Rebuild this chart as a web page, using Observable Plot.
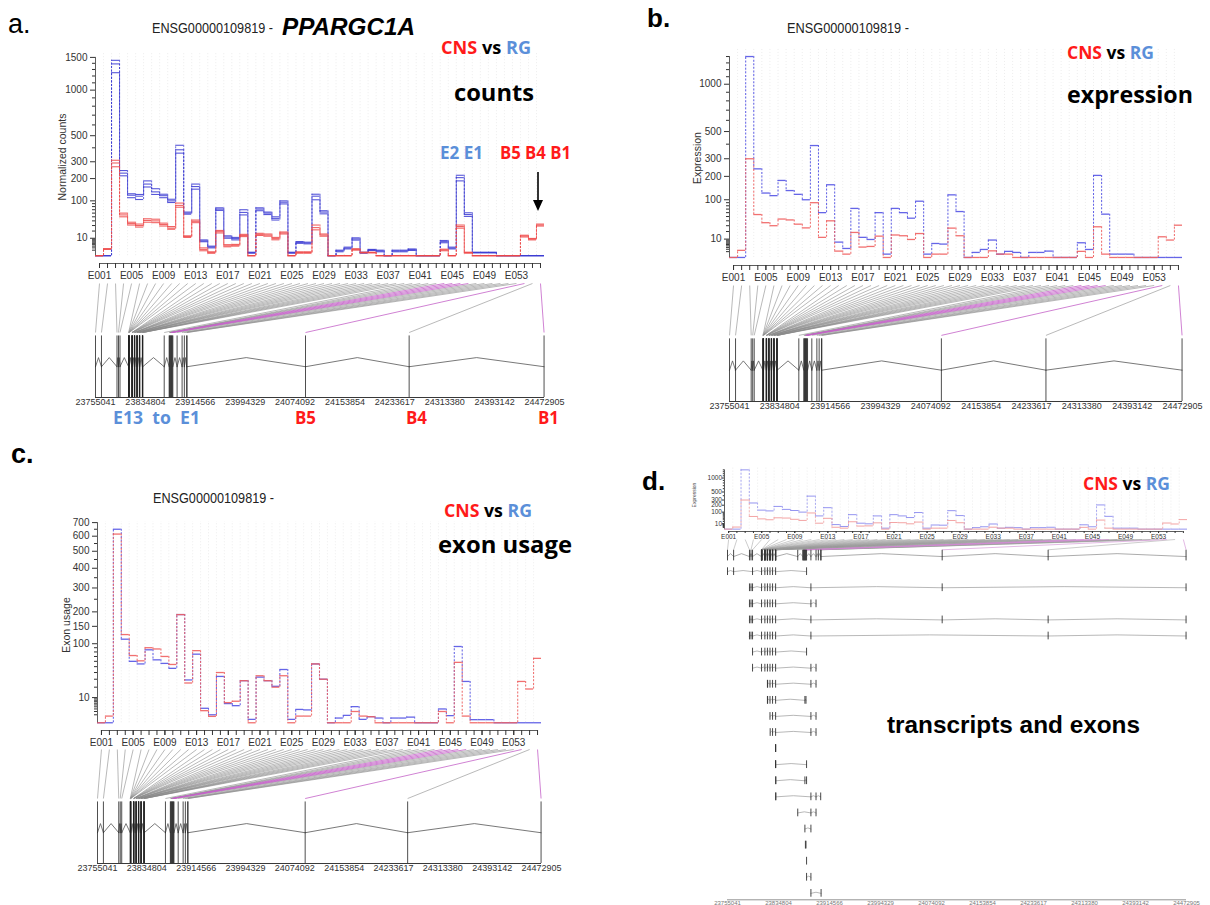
<!DOCTYPE html>
<html><head><meta charset="utf-8">
<script src="https://cdn.jsdelivr.net/npm/d3@7"></script>
<script src="https://cdn.jsdelivr.net/npm/@observablehq/plot@0.6"></script>
<style>
html,body{margin:0;padding:0;background:#fff}
#fig{position:relative;width:1210px;height:905px;overflow:hidden;background:#fff}
#fig > svg{position:absolute}
</style></head><body><div id="fig"></div>
<script>
// ---------------- DATA ----------------
const GENE_START = 23755041, GENE_END = 24472905;
const exonNames = ["E001","E002","E003","E004","E005","E006","E007","E008","E009","E010","E011","E012","E013","E014","E015","E016","E017","E018","E019","E020","E021","E022","E023","E024","E025","E026","E027","E028","E029","E030","E031","E032","E033","E034","E035","E036","E037","E038","E039","E040","E041","E042","E043","E044","E045","E046","E047","E048","E049","E050","E051","E052","E053","E054","E055","E056"];
const exonLabelTicks = ["E001","E005","E009","E013","E017","E021","E025","E029","E033","E037","E041","E045","E049","E053"];
const exonStarts = [23755041,23764600,23789400,23791800,23794200,
  23808000,23808150,23808300,23808450,23808600,23808750,23808900,23809050,
  23813200,23813350,23813500,23813650,23813800,23813950,
  23817200,23817350,23817500,23817650,23817800,
  23821200,23821350,23821500,23821650,23821800,
  23825200,23825350,23825500,23825650,23825800,
  23830000,23830150,23830300,23830450,23830600,
  23864900,23872800,23873600,23874400,23875300,23876100,23876900,23877800,23878700,
  23885500,23893500,23897100,23900800,23901400,24090800,24256500,24472200];
const genomicTicks = [23755041,23834804,23914566,23994329,24074092,24153854,24233617,24313380,24393142,24472905];
const sigExons = ["E044","E045","E046","E047","E054","E056"];

// panel a: normalized counts, three replicates per tissue
const countsRG1 = [0,0,1450,245,128,125,188,150,126,106,420,63,172,8.2,3.0,76,13,11,70,0.4,76,63,50,100,0.4,6.6,6.0,126,67,0,1.0,2.4,10.5,0.4,1.3,1.0,0,1.0,1.0,1.5,0,0,0,7.6,2.4,218,61,0.4,0.4,0.4,0,0,0,0,0,0];
const countsRG2 = [0,0,1390,230,122,118,172,136,120,100,385,60,160,7.2,2.5,72,11.5,9.6,62,0.3,72,60,46,95,0.3,5.8,5.3,118,63,0,0.75,1.9,9.2,0.3,1.1,0.75,0,0.75,0.75,1.2,0,0,0,6.5,1.9,205,56,0.33,0.33,0.33,0,0,0,0,0,0];
const countsRG3 = [0,0,1250,215,112,105,158,125,112,94,360,57,148,6.4,2.0,68,10,8.2,55,0.2,67,56,42,89,0.2,5.0,4.6,104,58,0,0.5,1.5,8.0,0.2,0.9,0.5,0,0.5,0.5,0.9,0,0,0,5.5,1.5,188,51,0.25,0.25,0.25,0,0,0,0,0,0];
const countsCNS1 = [0,1.6,310,60,37,33,45,44,35,28,92,13,42,2.0,0.5,21,4.0,4.2,15,0,16.5,15.5,11,18.5,0,0.5,0.5,31,15.5,0,0,0,1.6,0.4,0.4,0,0,0,0,0,0,0,0,1.4,0,31,0.4,0,0,0,0,0,0,13.8,9.8,33];
const countsCNS2 = [0,1.5,292,55,34,30,41,40,32,25,84,12,39,1.3,0.3,19,3.2,3.6,13.5,0,15,14,9.6,17,0,0.33,0.33,26,14,0,0,0,1.3,0.33,0.33,0,0,0,0,0,0,0,0,1.1,0,28,0.33,0,0,0,0,0,0,12.7,9.0,31];
const countsCNS3 = [0,1.3,268,50,31,27,37,36,29,23,78,11,36,0.8,0.2,17,2.6,3.0,12,0,13.5,12.5,8.3,15.5,0,0.2,0.2,22,12.5,0,0,0,1.0,0.25,0.25,0,0,0,0,0,0,0,0,0.8,0,25,0.2,0,0,0,0,0,0,11.5,8.2,29];
// panels b and d: fitted expression
const exprRG = [0,0,1400,240,125,115,180,135,120,100,390,60,160,7,2.4,72,12,9.6,60,0.33,72,60,46,95,0.33,5.8,5.3,118,63,0,0.75,1.9,9,0.33,1.1,0.75,0,0.75,0.75,1.2,0,0,0,6.4,1.9,205,56,0.33,0.33,0.33,0,0,0,0,0,0];
const exprCNS = [0,1.5,300,55,36,30,44,42,33,26,90,12,40,1.2,0.33,18.6,3.2,3.6,13.5,0,15,14,9.6,17,0,0.33,0.33,25.6,14,0,0,0,1.3,0.33,0.33,0,0,0,0,0,0,0,0,1.1,0,28,0.33,0,0,0,0,0,0,12.7,9,31];
// panel c: exon usage
const usageRG = [0,0,650,112,60,55,85,63,56,47,190,29,75,3.3,1.0,34,5.8,4.6,28,0.18,33,28,21,45,0.18,2.8,2.6,55,30,0,0.35,0.86,4.1,0.18,0.58,0.35,0,0.35,0.35,0.5,0,0,0,3,0.8,93,27,0.15,0.15,0.15,0,0,0,0,0,0];
const usageCNS = [0,0.7,615,125,72,61,90,87,70,54,190,25,83,2.3,0.64,40,6.4,7.3,28,0,35,28,20,35,0,0.7,0.7,55,30,0,0,0,2,0.7,0.58,0,0,0,0,0,0,0,0,2,0,58,0.7,0,0,0,0,0,0,27,18,66];
// y tick values
const countTicks = [10,100,200,300,500,1000,1500];
const exprTicks = [10,100,200,300,500,1000];
const usageTicks = [10,100,150,200,300,400,500,600,700];
const countMinor = [1,2,3,4,5,6,7,8,9,20,30,40,50,60,70,80,90,400,600,700,800,900,1100,1200,1300,1400];
const usageMinor = [1,2,3,4,5,6,7,8,9,20,30,40,50,60,70,80,90,250,350,450,550,650];
// panel d: transcripts as lists of exon bins (1-based)
const transcripts = [
  [1,2,5,8,16,22,27,32,37,48],
  [3,4,5,8,16,22,27,32,37,49,54,56],
  [3,4,5,8,16,22,27,32,37,49,50],
  [3,4,5,8,16,22,27,32,37,49,54,55,56],
  [3,4,5,8,16,22,27,32,37,49,55,56],
  [5,8,16,22,27,32,37,48],
  [5,8,16,22,27,32,37,49,50],
  [22,24,27,32,37,49,50],
  [22,24,27,32,37,45,47],
  [27,32,37,49,50],
  [29,32,37,49,50],
  [36,37,38],
  [36,37,38,48],
  [38,39,45,48],
  [38,39,49,50,52],
  [40,49,50],
  [45,49],
  [46,47],
  [48],
  [48,49],
  [49,53]
];

// ---------------- STYLE / LAYOUT ----------------
const NARROW = '"Liberation Sans Narrow","Arial Narrow","Liberation Sans",Arial,sans-serif';
const SANS = '"Liberation Sans",Arial,sans-serif';
const CAL = '"Open Sans","Liberation Sans",sans-serif';
const AX = "#333";
const BLUE_T = "#5b8fd9", RED_T = "#ff1a1a";
const MIN_INTRON = 1500;
const TRACK = {connTop: 1, connBot: 0.57, exonTop: 0.54, intronBase: 0.27, intronPeak: 0.35};

const fig = document.getElementById("fig");
function place(svg, left, top) { svg.style.left = left + "px"; svg.style.top = top + "px"; fig.appendChild(svg); return svg; }

function makeStep(c) {
  const f = v => Math.asinh(Math.sqrt(c.alpha * v));
  const n = exonNames.length;
  const idx = exonNames.map((_, i) => i + 1);
  const fm = d3.max(c.series, s => d3.max(s.values, f));
  const yDom = [-0.04 * fm, 1.04 * fm];
  const minor = c.minor.filter(t => f(t) <= yDom[1]);
  const major = c.ticks.filter(t => f(t) <= yDom[1] * 1.001);
  const lab = new Map(major.map(t => [f(t), String(t)]));
  const labelIdx = exonLabelTicks.map(e => exonNames.indexOf(e) + 1);
  const marks = [
    Plot.ruleX(idx.slice(0, -1).map(i => i + 0.5), {y1: 0, y2: yDom[1], stroke: "#e0e0e0", strokeWidth: 0.6, strokeDasharray: "1,2"})
  ];
  for (const s of c.series) {
    const segs = s.values.map((v, i) => ({x1: i + 0.5, x2: i + 1.5, y: f(v)}));
    const links = s.values.slice(1).map((v, i) => ({x: i + 1.5, y1: f(s.values[i]), y2: f(v)}));
    marks.push(Plot.ruleX(links, {x: "x", y1: "y1", y2: "y2", stroke: s.color, strokeOpacity: s.opacity, strokeWidth: s.lw * 0.8, strokeDasharray: "2,1.6"}));
    marks.push(Plot.ruleY(segs, {y: "y", x1: "x1", x2: "x2", stroke: s.color, strokeOpacity: s.opacity, strokeWidth: s.lw}));
  }
  marks.push(
    Plot.ruleY([yDom[0]], {x1: 1, x2: n, stroke: AX, strokeWidth: 0.8}),
    Plot.ruleX([0.5], {y1: 0, y2: f(d3.max([...minor, ...major])), stroke: AX, strokeWidth: 0.8}),
    Plot.axisX(idx, {anchor: "bottom", tickSize: c.tick, tickFormat: () => "", stroke: AX, label: null}),
    Plot.axisX(labelIdx, {anchor: "bottom", tickSize: c.tick, tickPadding: c.pad, tickFormat: i => exonNames[i - 1], fill: AX, stroke: AX, label: null}),
    Plot.axisY(minor.map(f), {anchor: "left", tickSize: c.tick * 0.6, tickFormat: () => "", stroke: AX, label: null}),
    Plot.axisY(major.map(f), {anchor: "left", tickSize: c.tick, tickPadding: c.pad, tickFormat: d => lab.get(d) ?? "", fill: AX, stroke: AX, label: null})
  );
  const svg = Plot.plot({
    width: c.width, height: c.height,
    marginLeft: c.mL, marginRight: c.mR, marginTop: c.mT, marginBottom: c.mB,
    style: {fontFamily: NARROW, fontSize: c.fs + "px", background: "transparent", overflow: "visible"},
    x: {domain: [0.5, n + 0.5]},
    y: {domain: yDom},
    marks
  });
  return place(svg, c.left, c.top);
}

function introns(starts, base, peak, tag) {
  const pts = [];
  starts.forEach((g, i) => {
    if (i > 0 && g - starts[i - 1] > MIN_INTRON) {
      const a = starts[i - 1];
      pts.push({id: tag + i, x: a, y: base}, {id: tag + i, x: (a + g) / 2, y: peak}, {id: tag + i, x: g, y: base});
    }
  });
  return pts;
}

function connectors(step, mL, width, mR) {
  const gx = Plot.scale({x: {domain: [GENE_START, GENE_END], range: [mL, width - mR]}});
  const sx = step.scale("x");
  return exonNames.map((e, i) => ({e, xTop: gx.invert(sx.apply(i + 1)), g: exonStarts[i], sig: sigExons.includes(e)}));
}

function makeTrack(c) {
  const conns = connectors(c.step, c.mL, c.width, c.mR);
  const svg = Plot.plot({
    width: c.width, height: c.height,
    marginLeft: c.mL, marginRight: c.mR, marginTop: c.mT, marginBottom: c.mB,
    style: {fontFamily: NARROW, fontSize: c.fs + "px", background: "transparent", overflow: "visible"},
    x: {domain: [GENE_START, GENE_END]},
    y: {domain: [0, 1], axis: null},
    marks: [
      Plot.link(conns.filter(d => !d.sig), {x1: "xTop", x2: "g", y1: TRACK.connTop, y2: TRACK.connBot, stroke: "#8a8a8a", strokeWidth: 0.6}),
      Plot.link(conns.filter(d => d.sig), {x1: "xTop", x2: "g", y1: TRACK.connTop, y2: TRACK.connBot, stroke: "#c462c8", strokeWidth: 0.8}),
      Plot.line(introns(exonStarts, TRACK.intronBase, TRACK.intronPeak, "i"), {x: "x", y: "y", z: "id", stroke: "#555", strokeWidth: 0.8}),
      Plot.ruleX(exonStarts, {y1: 0, y2: TRACK.exonTop, stroke: "#222", strokeWidth: 0.8}),
      Plot.ruleY([0], {x1: GENE_START, x2: GENE_END, stroke: "#222", strokeWidth: 0.9}),
      Plot.axisX(genomicTicks, {anchor: "bottom", tickSize: 0, tickPadding: c.pad, tickFormat: d => String(d), fill: AX, label: null})
    ]
  });
  return place(svg, c.left, c.top);
}

function makeTranscripts(c) {
  const conns = connectors(c.step, c.mL, c.width, c.mR);
  const yMax = transcripts.length + 0.4;
  const txEx = [], txIn = [];
  transcripts.forEach((bins, r) => {
    const row = r + 1;
    bins.forEach((b, j) => {
      const g = exonStarts[b - 1];
      txEx.push({g, row});
      if (j > 0) {
        const a = exonStarts[bins[j - 1] - 1];
        if (g - a > MIN_INTRON) txIn.push({id: row * 100 + j, x: a, y: row}, {id: row * 100 + j, x: (a + g) / 2, y: row - 0.07}, {id: row * 100 + j, x: g, y: row});
      }
    });
  });
  const svg = Plot.plot({
    width: c.width, height: c.height,
    marginLeft: c.mL, marginRight: c.mR, marginTop: c.mT, marginBottom: c.mB,
    style: {fontFamily: NARROW, fontSize: c.fs + "px", background: "transparent", overflow: "visible"},
    x: {domain: [GENE_START, GENE_END]},
    y: {domain: [-1, yMax], reverse: true, axis: null},
    marks: [
      Plot.link(conns.filter(d => !d.sig), {x1: "xTop", x2: "g", y1: -1, y2: -0.36, stroke: "#9a9a9a", strokeWidth: 0.5}),
      Plot.link(conns.filter(d => d.sig), {x1: "xTop", x2: "g", y1: -1, y2: -0.36, stroke: "#d08ad2", strokeWidth: 0.6}),
      Plot.line(introns(exonStarts, 0.06, -0.12, "g"), {x: "x", y: "y", z: "id", stroke: "#888", strokeWidth: 0.7}),
      Plot.ruleX(exonStarts, {y1: -0.33, y2: 0.33, stroke: "#333", strokeWidth: 0.9}),
      Plot.line(txIn, {x: "x", y: "y", z: "id", stroke: "#999", strokeWidth: 0.7}),
      Plot.ruleX(txEx, {x: "g", y1: d => d.row - 0.24, y2: d => d.row + 0.24, stroke: "#333", strokeWidth: 0.9}),
      Plot.ruleY([yMax], {x1: GENE_START, x2: GENE_END, stroke: "#777", strokeWidth: 0.8}),
      Plot.axisX(genomicTicks, {anchor: "bottom", tickSize: 0, tickPadding: c.pad, tickFormat: d => String(d), fill: "#777", label: null})
    ]
  });
  return place(svg, c.left, c.top);
}

// ---------------- PANELS ----------------
const rgA = {color: "#3a3ad2", lw: 1.1, opacity: 0.85}, cnsA = {color: "#ee4848", lw: 1.1, opacity: 0.85};
const stepA = makeStep({left: 0, top: 40, width: 560, height: 245, mL: 95, mR: 16, mT: 12, mB: 22, alpha: 0.00035, fs: 10, tick: 5, pad: 3,
  ticks: countTicks, minor: countMinor,
  series: [countsRG1, countsRG2, countsRG3].map(v => ({...rgA, values: v})).concat([countsCNS1, countsCNS2, countsCNS3].map(v => ({...cnsA, values: v})))});
makeTrack({step: stepA, left: 0, top: 270, width: 560, height: 142, mL: 95, mR: 16, mT: 13, mB: 15, fs: 9, pad: 1.5});

const stepB = makeStep({left: 600, top: 40, width: 600, height: 247, mL: 129, mR: 18, mT: 8, mB: 22, alpha: 0.0004, fs: 10, tick: 5, pad: 3,
  ticks: exprTicks, minor: countMinor,
  series: [{values: exprRG, color: "#5454e4", lw: 1.3, opacity: 0.9}, {values: exprCNS, color: "#f06060", lw: 1.3, opacity: 0.9}]});
makeTrack({step: stepB, left: 600, top: 272, width: 600, height: 144, mL: 129, mR: 18, mT: 13, mB: 15, fs: 9, pad: 1.5});

const stepC = makeStep({left: 0, top: 505, width: 560, height: 247, mL: 97, mR: 19, mT: 16, mB: 22, alpha: 0.0005, fs: 10, tick: 5, pad: 3,
  ticks: usageTicks, minor: usageMinor,
  series: [{values: usageRG, color: "#5454e4", lw: 1.3, opacity: 0.9}, {values: usageCNS, color: "#f06060", lw: 1.3, opacity: 0.9}]});
makeTrack({step: stepC, left: 0, top: 736, width: 560, height: 142, mL: 97, mR: 19, mT: 13, mB: 15, fs: 9, pad: 1.5});

const stepD = makeStep({left: 600, top: 458, width: 600, height: 85, mL: 124, mR: 13, mT: 9, mB: 12, alpha: 0.0004, fs: 6.5, tick: 2, pad: 0.5,
  ticks: exprTicks, minor: countMinor,
  series: [{values: exprRG, color: "#8a8aee", lw: 1, opacity: 0.9}, {values: exprCNS, color: "#f29a9a", lw: 1, opacity: 0.9}]});
makeTranscripts({step: stepD, left: 600, top: 530, width: 600, height: 375, mL: 127, mR: 14, mT: 9, mB: 5.7, fs: 6, pad: 0.5});

// ---------------- ANNOTATIONS ----------------
function T(x, y, s, o = {}) {
  const a = [`x="${x}"`, `y="${y}"`, `font-family='${o.ff || SANS}'`, `font-size="${o.fs || 12}"`, `font-weight="${o.fw || 400}"`, `fill="${o.fill || "#000"}"`];
  if (o.fi) a.push(`font-style="italic"`);
  if (o.tl) a.push(`textLength="${o.tl}" lengthAdjust="spacingAndGlyphs"`);
  if (o.rot) a.push(`transform="rotate(-90 ${x} ${y})" text-anchor="middle" dominant-baseline="central"`);
  return `<text ${a.join(" ")}>${s}</text>`;
}
const cnsVsRg = `<tspan fill="${RED_T}">CNS</tspan> vs <tspan fill="${BLUE_T}">RG</tspan>`;
const title = "ENSG00000109819 -";
const ann = [
  T(8, 33, "a.", {fs: 27}),
  T(152, 33, title, {ff: NARROW, fs: 15, tl: 121, fill: "#222"}),
  T(282, 34.5, "PPARGC1A", {fs: 23, fw: 700, fi: true, tl: 133}),
  T(441, 54, cnsVsRg, {ff: CAL, fs: 18, fw: 700, tl: 90}),
  T(454, 101, "counts", {ff: CAL, fs: 24, fw: 700, tl: 80}),
  T(440, 159, "E2 E1", {ff: CAL, fs: 18, fw: 700, tl: 43, fill: BLUE_T}),
  T(500, 159, "B5 B4 B1", {ff: CAL, fs: 18, fw: 700, tl: 71, fill: RED_T}),
  T(113, 424, "E13&#160;&#160;to&#160;&#160;E1", {ff: CAL, fs: 18, fw: 700, tl: 87, fill: BLUE_T}),
  T(295, 424, "B5", {ff: CAL, fs: 18, fw: 700, tl: 21, fill: RED_T}),
  T(406, 424, "B4", {ff: CAL, fs: 18, fw: 700, tl: 21, fill: RED_T}),
  T(538, 424, "B1", {ff: CAL, fs: 18, fw: 700, tl: 21, fill: RED_T}),
  T(62, 157, "Normalized counts", {ff: NARROW, fs: 10.5, rot: true, fill: "#333"}),
  // b
  T(647, 27, "b.", {fs: 26, fw: 700}),
  T(787, 33, title, {ff: NARROW, fs: 15, tl: 122, fill: "#222"}),
  T(1067, 59, cnsVsRg, {ff: CAL, fs: 18, fw: 700, tl: 87}),
  T(1067, 103, "expression", {ff: CAL, fs: 24, fw: 700, tl: 126}),
  T(697, 158, "Expression", {ff: NARROW, fs: 10.5, rot: true, fill: "#333"}),
  // c
  T(11, 463, "c.", {fs: 27, fw: 700}),
  T(153, 503, title, {ff: NARROW, fs: 15, tl: 121, fill: "#222"}),
  T(444, 517, cnsVsRg, {ff: CAL, fs: 18, fw: 700, tl: 88}),
  T(438, 553, "exon usage", {ff: CAL, fs: 24, fw: 700, tl: 134}),
  T(66, 625, "Exon usage", {ff: NARROW, fs: 10.5, rot: true, fill: "#333"}),
  // d
  T(642, 490, "d.", {fs: 26, fw: 700}),
  T(1083, 490, cnsVsRg, {ff: CAL, fs: 18, fw: 700, tl: 87}),
  T(887, 733, "transcripts and exons", {fs: 24, fw: 700, tl: 253}),
  T(694, 495, "Expression", {ff: NARROW, fs: 5, rot: true, fill: "#444"})
];
const arrow = `<line x1="538" y1="172" x2="538" y2="202" stroke="#000" stroke-width="1.6"/><path d="M533,200 L543,200 L538,211 Z" fill="#000"/>`;
fig.insertAdjacentHTML("beforeend", `<svg width="1210" height="905" style="left:0;top:0;pointer-events:none">${ann.join("")}${arrow}</svg>`);
</script></body></html>
